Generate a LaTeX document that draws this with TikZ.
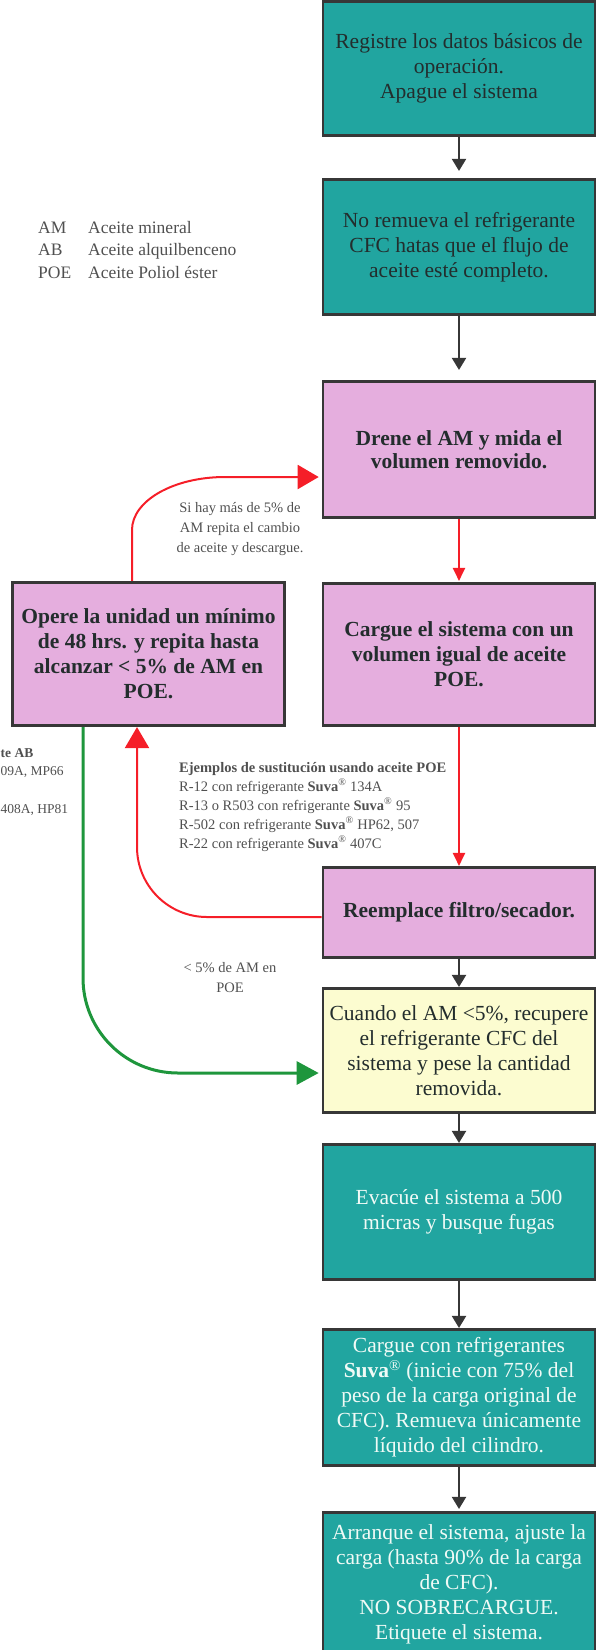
\documentclass[tikz,border=0pt]{standalone}
\usepackage{fontspec}
\setmainfont{Liberation Serif}
\usetikzlibrary{arrows.meta}
\definecolor{tealc}{RGB}{33,165,160}
\definecolor{pinkc}{RGB}{229,174,222}
\definecolor{yellowc}{RGB}{252,252,208}
\definecolor{bordc}{RGB}{55,55,55}
\definecolor{darktxt}{RGB}{35,45,45}
\definecolor{whitetxt}{RGB}{240,250,246}
\definecolor{greytxt}{RGB}{80,80,80}
\definecolor{redc}{RGB}{245,30,40}
\definecolor{greenc}{RGB}{30,150,60}
\begin{document}
\begin{tikzpicture}[x=1pt,y=-1pt,
  box/.style={draw=bordc, line width=2.6pt, minimum width=272pt, align=center, inner sep=1pt},
  tealbox/.style={box, fill=tealc, text=darktxt, font=\fontsize{21.5}{25}\selectfont},
  tealwbox/.style={box, fill=tealc, text=whitetxt, font=\fontsize{21.5}{25}\selectfont},
  pinkbox/.style={box, fill=pinkc, text=darktxt, font=\fontsize{21.5}{25}\selectfont\bfseries},
  yelbox/.style={box, fill=yellowc, text=darktxt, font=\fontsize{21.5}{25}\selectfont},
  legtxt/.style={anchor=base west, inner sep=0pt, text=greytxt, font=\fontsize{17.5}{22}\selectfont},
  smalltxt/.style={inner sep=0pt, text=greytxt, font=\fontsize{14.5}{19}\selectfont},
  edgetxt/.style={anchor=base west, inner sep=0pt, text=greytxt, font=\fontsize{13.5}{19}\selectfont},
  blkarrow/.style={draw=bordc, line width=2pt, -{Triangle[width=14pt,length=12pt]}},
  redarrow/.style={draw=redc, line width=2pt, -{Triangle[width=12pt,length=13pt]}},
  redbig/.style={draw=redc, line width=2pt, -{Triangle[width=24pt,length=21pt]}},
  grnarrow/.style={draw=greenc, line width=3pt, -{Triangle[width=23pt,length=22pt]}}
]
\useasboundingbox (0,0) rectangle (599,1650);

% boxes
\node[tealbox, minimum height=134pt] (b1) at (459,68.5) {Registre los datos básicos de\\operación.\\Apague el sistema};
\node[tealbox, minimum height=135.5pt] (b2) at (459,247) {No remueva el refrigerante\\CFC hatas que el flujo de\\aceite esté completo.};
\node[pinkbox, minimum height=136.5pt, font=\fontsize{21.5}{23}\selectfont\bfseries] (b3) at (459,449.5) {Drene el AM y mida el\\volumen removido.};
\node[pinkbox, minimum height=142.5pt] (b4) at (459,654.5) {Cargue el sistema con un\\volumen igual de aceite\\POE.};
\node[pinkbox, minimum height=143.5pt] (op) at (148.5,654) {Opere la unidad un mínimo\\de 48 hrs. y repita hasta\\alcanzar < 5\% de AM en\\POE.};
\node[pinkbox, minimum height=90.5pt] (b5) at (459,912.5) {Reemplace filtro/secador.};
\node[yelbox, minimum height=124.5pt] (b6) at (459,1050.5) {Cuando el AM <5\%, recupere\\el refrigerante CFC del\\sistema y pese la cantidad\\removida.};
\node[tealwbox, minimum height=135.5pt] (b7) at (459,1212) {Evacúe el sistema a 500\\micras y busque fugas};
\node[tealwbox, minimum height=136.5pt] (b8) at (459,1397.5) {Cargue con refrigerantes\\\textbf{Suva}\textsuperscript{®} (inicie con 75\% del\\peso de la carga original de\\CFC). Remueva únicamente\\líquido del cilindro.};
\node[tealwbox, minimum height=143.5pt] (b9) at (459,1584) {Arranque el sistema, ajuste la\\carga (hasta 90\% de la carga\\de CFC).\\NO SOBRECARGUE.\\Etiquete el sistema.};

% legend
\node[legtxt] (l1a) at (38,233) {AM};
\node[legtxt] (l1b) at (88,233) {Aceite mineral};
\node[legtxt] (l2a) at (38,255.5) {AB};
\node[legtxt] (l2b) at (88,255.5) {Aceite alquilbenceno};
\node[legtxt] (l3a) at (38,278) {POE};
\node[legtxt] (l3b) at (88,278) {Aceite Poliol éster};

% text fragments at the left edge
\node[edgetxt, font=\fontsize{13.5}{19}\selectfont\bfseries] (c1) at (0.5,757) {te AB};
\node[edgetxt] (c2) at (0.5,775) {09A, MP66};
\node[edgetxt] (c3) at (0.5,813) {408A, HP81};

% examples text
\node[smalltxt, anchor=base west, font=\fontsize{14.5}{19}\selectfont\bfseries] (e0) at (179,772) {Ejemplos de sustitución usando aceite POE};
\node[smalltxt, anchor=base west] (e1) at (179,791) {R-12 con refrigerante \textbf{Suva}\textsuperscript{®} 134A};
\node[smalltxt, anchor=base west] (e2) at (179,810) {R-13 o R503 con refrigerante \textbf{Suva}\textsuperscript{®} 95};
\node[smalltxt, anchor=base west] (e3) at (179,829) {R-502 con refrigerante \textbf{Suva}\textsuperscript{®} HP62, 507};
\node[smalltxt, anchor=base west] (e4) at (179,848) {R-22 con refrigerante \textbf{Suva}\textsuperscript{®} 407C};

% loop labels
\node[smalltxt, anchor=base] (s1) at (240,512) {Si hay más de 5\% de};
\node[smalltxt, anchor=base] (s2) at (240,532) {AM repita el cambio};
\node[smalltxt, anchor=base] (s3) at (240,552) {de aceite y descargue.};
\node[smalltxt, anchor=base] (p1) at (230,972) {< 5\% de AM en};
\node[smalltxt, anchor=base] (p2) at (230,992) {POE};

% helper coordinates
\coordinate (ry) at (0,477);
\coordinate (rl) at (0,917);
\coordinate (rx) at (137,0);
\coordinate (gx) at (83,0);
\coordinate (gy) at (0,1073);

% black arrows
\draw[blkarrow, shorten >=7pt] (b1) -- (b2);
\draw[blkarrow, shorten >=10pt] (b2) -- (b3);
\draw[blkarrow] (b5) -- (b6);
\draw[blkarrow] (b6) -- (b7);
\draw[blkarrow] (b7) -- (b8);
\draw[blkarrow, shorten >=2pt] (b8) -- (b9);

% red arrows
\draw[redarrow, shorten >=1pt] (b3) -- (b4);
\draw[redarrow] (b4) -- (b5);
\draw[redbig, shorten >=3pt] ([xshift=-16.5pt]op.north) -- (132,530) .. controls (132,500.7) and (173.6,477) .. (225,477) -- (b3.west |- ry);
\draw[redbig, rounded corners=70pt] (b5.west |- rl) -- (rx |- rl) -- (op.south -| rx);

% green arrow
\draw[grnarrow, rounded corners=95pt, shorten >=3pt] (op.south -| gx) -- (gx |- gy) -- (b6.west |- gy);
\end{tikzpicture}
\end{document}
